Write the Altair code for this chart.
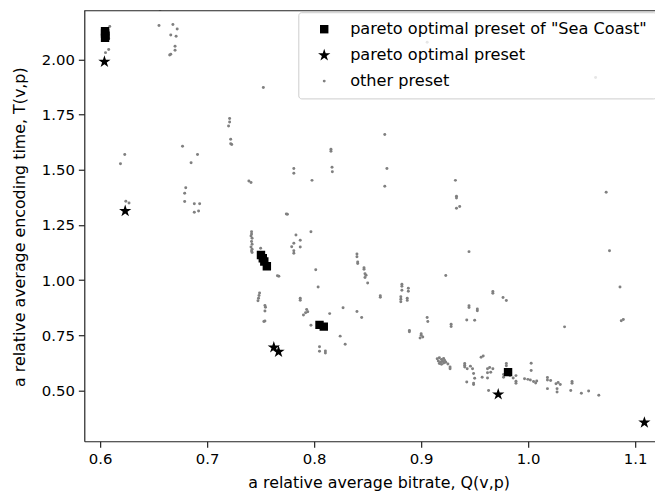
import altair as alt
import pandas as pd

# ---- data ----
other_q = [
    0.609, 0.608, 0.608, 0.605,
    0.656, 0.655, 0.668, 0.672, 0.666, 0.671, 0.670, 0.670, 0.666, 0.665,
    0.7525,
    0.721, 0.721, 0.720, 0.722, 0.722, 0.723,
    0.677, 0.623, 0.619, 0.691, 0.685,
    0.680, 0.679, 0.679, 0.688, 0.693, 0.688, 0.692,
    0.739, 0.741,
    0.624, 0.627,
    0.7415, 0.7415, 0.741, 0.742, 0.7415, 0.742, 0.741, 0.742, 0.7415, 0.742,
    0.750,
    0.7657, 0.767,
    0.774,
    0.749, 0.7485, 0.748, 0.7475,
    0.754, 0.7545, 0.754, 0.754, 0.753,
    0.866, 0.8157, 0.8157,
    0.781, 0.781, 0.8167, 0.817, 0.868, 0.798, 0.866, 0.932, 0.933, 0.933, 0.933, 0.936, 0.775,
    0.797, 0.783, 0.787, 0.781, 0.779, 0.787, 0.781, 0.781,
    0.9447,
    0.840, 0.840, 0.8407, 0.8407, 0.8466, 0.8466, 0.8475, 0.8485, 0.8475, 0.850,
    0.8015, 0.923,
    0.882, 0.882, 0.882, 0.888, 0.888,
    0.8037,
    0.8618, 0.8618,
    0.881, 0.881, 0.881, 0.887, 0.887,
    0.787, 0.787,
    0.793, 0.792, 0.790, 0.794,
    0.827, 0.8145, 0.840, 0.8444,
    0.797,
    0.9447, 0.9447, 0.9525, 0.9525, 0.9426, 0.950,
    0.9056, 0.9062,
    0.928, 0.928,
    0.889, 0.889,
    0.900, 0.900, 0.9015, 0.899,
    0.8243, 0.829,
    0.805, 0.805, 0.8105, 0.8105,
    0.915, 0.917, 0.919, 0.921, 0.916, 0.918, 0.920, 0.922, 0.917, 0.919, 0.921, 0.923,
    0.927, 0.927, 0.925,
    0.9407, 0.9407, 0.9407, 0.943, 0.946, 0.948,
    0.949, 0.950, 0.949, 0.949, 0.9426,
    0.956, 0.958, 0.957,
    1.0729, 1.076, 1.0858, 1.0889, 1.087, 1.034,
    0.967, 0.967, 0.9765, 0.9796,
    0.962, 0.964, 0.962, 0.967, 0.965, 0.962,
    0.9796, 0.9796,
    0.977, 0.977,
    0.983, 0.986, 0.9886,
    0.9886, 0.9886,
    1.0028, 1.0028,
    0.9966, 0.9997, 1.002, 1.005, 1.008, 1.007,
    1.018, 1.018, 1.018,
    1.021,
    1.026, 1.028, 1.030,
    1.027, 1.027,
    1.041, 1.041,
    1.0398, 1.0497, 1.0565, 1.066,
    0.963,
    0.9056, 1.063,
]
other_t = [
    2.150, 2.094, 2.045, 2.031,
    2.226, 2.154, 2.159, 2.138, 2.111, 2.105, 2.060, 2.042, 2.024, 2.020,
    1.873,
    1.732, 1.717, 1.698, 1.638, 1.618, 1.615,
    1.607, 1.569, 1.527, 1.569, 1.532,
    1.419, 1.394, 1.356, 1.346, 1.346, 1.307, 1.313,
    1.449, 1.442,
    1.357, 1.349,
    1.219, 1.209, 1.200, 1.190, 1.175, 1.162, 1.150, 1.140, 1.132, 1.125,
    1.144,
    1.020, 1.017,
    1.300,
    0.942, 0.930, 0.918, 0.906,
    0.885, 0.877, 0.860, 0.815, 0.812,
    1.660, 1.593, 1.584,
    1.506, 1.484, 1.511, 1.491, 1.506, 1.452, 1.425, 1.452, 1.380, 1.372, 1.326, 1.334, 1.298,
    1.219, 1.204, 1.181, 1.167, 1.151, 1.150, 1.133, 1.122,
    1.129,
    1.118, 1.106, 1.082, 1.075, 1.056, 1.049, 1.029, 1.022, 1.012, 0.987,
    1.047, 1.021,
    0.981, 0.972, 0.954, 0.963, 0.949,
    0.969,
    0.929, 0.922,
    0.924, 0.913, 0.902, 0.918, 0.908,
    0.918, 0.909,
    0.867, 0.852, 0.842, 0.856,
    0.875, 0.848, 0.858, 0.830,
    0.795,
    0.884, 0.876, 0.869, 0.861, 0.819, 0.818,
    0.830, 0.812,
    0.800, 0.790,
    0.772, 0.766,
    0.757, 0.750, 0.742, 0.738,
    0.746, 0.709,
    0.698, 0.677, 0.679, 0.670,
    0.643, 0.648, 0.640, 0.645, 0.633, 0.628, 0.632, 0.636, 0.622, 0.618, 0.624, 0.628,
    0.606, 0.598, 0.620,
    0.622, 0.614, 0.606, 0.598, 0.610, 0.598,
    0.577, 0.555, 0.533, 0.527, 0.538,
    0.650, 0.656, 0.560,
    1.398, 1.133, 0.969, 0.821, 0.816, 0.788,
    0.948, 0.940, 0.921, 0.907,
    0.598, 0.604, 0.580, 0.598, 0.582, 0.556,
    0.622, 0.612,
    0.572, 0.560,
    0.567, 0.556, 0.567,
    0.541, 0.532,
    0.623, 0.590,
    0.553, 0.550, 0.547, 0.540, 0.543, 0.534,
    0.558, 0.547, 0.508,
    0.545,
    0.530, 0.536, 0.527,
    0.508, 0.493,
    0.540, 0.532,
    0.500, 0.487, 0.497, 0.478,
    0.500,
    2.078, 1.918,
]
sea_q = [0.6046, 0.6046, 0.6050, 0.6046, 0.7503, 0.7520, 0.7534, 0.7558, 0.8050, 0.8090, 0.9812]
sea_t = [2.128, 2.118, 2.108, 2.098, 1.114, 1.099, 1.084, 1.063, 0.797, 0.789, 0.583]
pareto_q = [0.6040, 0.6234, 0.7623, 0.7667, 0.9720, 1.1086]
pareto_t = [1.990, 1.313, 0.695, 0.675, 0.482, 0.354]

keys = ["a_sea", "b_pareto", "c_other"]
labels = ['pareto optimal preset of "Sea Coast"', "pareto optimal preset", "other preset"]

x_ticks = [0.6, 0.7, 0.8, 0.9, 1.0, 1.1]
y_ticks = [0.5, 0.75, 1.0, 1.25, 1.5, 1.75, 2.0]

rows = []
for q, t in zip(other_q, other_t):
    rows.append({"q": q, "t": t, "kind": keys[2]})
for q, t in zip(pareto_q, pareto_t):
    rows.append({"q": q, "t": t, "kind": keys[1]})
for q, t in zip(sea_q, sea_t):
    rows.append({"q": q, "t": t, "kind": keys[0]})
df = pd.DataFrame(rows)

W, H = 576, 435
FONT = "DejaVu Sans"

STAR = ("M0,-1L0.225,-0.309L0.951,-0.309L0.363,0.118L0.588,0.809L0,0.382"
        "L-0.588,0.809L-0.363,0.118L-0.951,-0.309L-0.225,-0.309Z")

label_expr = (
    "datum.value == '" + keys[0] + "' ? '" + labels[0] + "' : "
    "datum.value == '" + keys[1] + "' ? '" + labels[1] + "' : '" + labels[2] + "'"
)

x_scale = alt.Scale(domain=[0.58519, 1.11852], nice=False, zero=False)
y_scale = alt.Scale(domain=[0.2696, 2.2232], nice=False, zero=False)

legend = alt.Legend(
    title=None, orient="none", legendX=216, legendY=2,
    fillColor="rgba(255,255,255,0.8)", strokeColor="#cccccc", cornerRadius=3,
    padding=9, labelFont=FONT, labelFontSize=16.3, labelColor="#000000",
    labelLimit=500, rowPadding=9.2, symbolOffset=9, labelOffset=18,
    symbolStrokeWidth=0, labelExpr=label_expr,
)

points = alt.Chart(df).mark_point(filled=True, clip=True, opacity=1).encode(
    x=alt.X("q:Q", scale=x_scale, axis=alt.Axis(
        values=x_ticks, format=".1f", title="a relative average bitrate, Q(v,p)",
        titleX=297, titleY=42, titleBaseline="middle", titleAlign="center")),
    y=alt.Y("t:Q", scale=y_scale, axis=alt.Axis(
        values=y_ticks, format=".2f", title="a relative average encoding time, T(v,p)",
        titleX=-65, titleY=H / 2 + 1, titleAngle=270, titleBaseline="middle", titleAlign="center")),
    shape=alt.Shape("kind:N", scale=alt.Scale(domain=keys, range=["square", STAR, "circle"]), legend=legend),
    color=alt.Color("kind:N", scale=alt.Scale(domain=keys, range=["#000000", "#000000", "#808080"]), legend=legend),
    size=alt.Size("kind:N", scale=alt.Scale(type="ordinal", domain=keys, range=[72, 170, 9]), legend=legend),
)

top_spine = alt.Chart(pd.DataFrame({"a": [0]})).mark_rule(color="#222222", strokeWidth=1.2).encode(
    x=alt.value(0), x2=alt.value(578), y=alt.value(0.5)
)

chart = alt.layer(points, top_spine).properties(
    width=W, height=H,
    autosize=alt.AutoSizeParams(type="none"),
    padding={"left": 77, "top": 0, "right": 0, "bottom": 50},
).configure_view(stroke=None).configure_axis(
    grid=False, domainColor="#222222", domainWidth=1.2, tickColor="#222222", tickWidth=1.2,
    tickSize=6, labelFont=FONT, labelFontSize=15, labelColor="#000000", labelPadding=4,
    titleFont=FONT, titleFontSize=16, titleFontWeight="normal", titleColor="#000000",
)

chart.save("out.html", embed_options={"renderer": "svg", "actions": False})
